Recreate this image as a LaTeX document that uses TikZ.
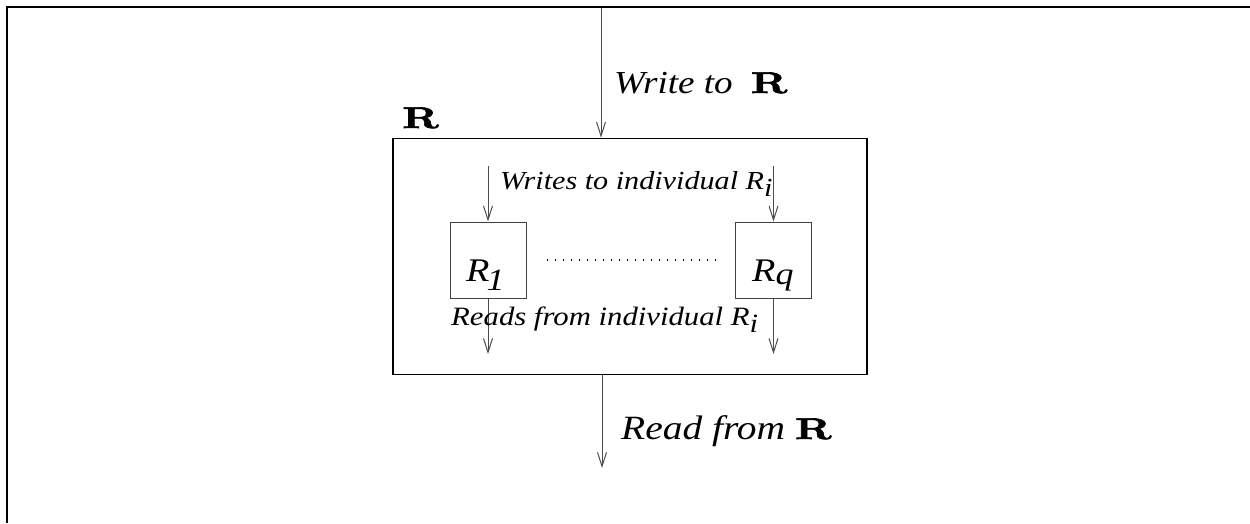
\documentclass[tikz,border=0pt]{standalone}
\usepackage{fontspec}
\newfontfamily\tms{Liberation Serif}[FakeStretch=1.16]
\newfontfamily\rbold{lmroman10-bold.otf}[FakeStretch=1.42,FakeBold=2]
\usetikzlibrary{arrows.meta}
\newcommand{\bigR}{{\rbold R}}
\begin{document}
\begin{tikzpicture}[x=1pt,y=-1pt,
  frameline/.style={line width=2.4pt},
  outerbox/.style={draw, line width=1.8pt, inner sep=0pt},
  regbox/.style={draw=black!75, line width=1pt, inner sep=0pt, minimum width=76pt, minimum height=76pt},
  flow/.style={draw=black!70, line width=1pt, -{Straight Barb[length=14pt,width=9pt,line width=1pt]}},
  lbl/.style={anchor=base west, inner sep=0pt, font=\tms\itshape}
]
\useasboundingbox (0,0) rectangle (1250,523);
% frame (only top and left edges visible)
\coordinate (fbl) at (7,523);
\coordinate (ftl) at (7,7);
\coordinate (ftr) at (1250,7);
\draw[frameline] (fbl) -- (ftl) -- (ftr);
% outer box R
\node[outerbox, minimum width=474pt, minimum height=236pt] (R) at (630,256.5) {};
\node[anchor=base west, inner sep=0pt, font={\fontsize{30}{32}\selectfont}] (Rlbl) at (402,128) {\bigR};
% register boxes
\node[regbox] (r1) at (488,260) {};
\node[regbox] (rq) at (773.5,260) {};
\node[anchor=base west, inner sep=0pt, font={\fontsize{33}{36}\selectfont\tms\itshape}] (r1t) at (466,281) {R\kern-3pt\raisebox{-9pt}{\fontsize{31}{31}\selectfont 1}};
\node[anchor=base west, inner sep=0pt, font={\fontsize{33}{36}\selectfont\tms\itshape}] (rqt) at (752,281) {R\raisebox{-3pt}{\fontsize{31}{31}\selectfont q}};
% dotted line
\coordinate (d1) at (547,260);
\coordinate (d2) at (717,260);
\draw[line width=1.2pt, dash pattern=on 1.2pt off 6.8pt] (d1) -- (d2);
% top arrow
\coordinate (wtop) at (601,8);
\draw[flow] (wtop) -- (R.north -| wtop);
\node[lbl, font={\fontsize{32}{34}\selectfont\tms\itshape}] (wlbl) at (614,93) {Write to\hspace{18pt}{\fontsize{30}{32}\selectfont\bigR}};
% bottom arrow
\coordinate (rbot) at (602,468);
\draw[flow] (R.south -| rbot) -- (rbot);
\node[lbl, font={\fontsize{34}{36}\selectfont\tms\itshape}] (rlbl) at (621,439) {Read from {\fontsize{30}{32}\selectfont\bigR}};
% inner write arrows
\coordinate (w1) at (488,166);
\coordinate (wq) at (773.5,166);
\draw[flow] (w1) -- (r1.north);
\draw[flow] (wq) -- (rq.north);
\node[lbl, font={\fontsize{26}{28}\selectfont\tms\itshape}] (wilbl) at (500,189) {Writes to individual R\raisebox{-7pt}{i}};
% inner read arrows
\coordinate (o1) at (488,354);
\coordinate (oq) at (773.5,354);
\draw[flow] (r1.south) -- (o1);
\draw[flow] (rq.south) -- (oq);
\node[lbl, font={\fontsize{26.5}{28}\selectfont\tms\itshape}] (rilbl) at (451,325) {Reads from individual R\raisebox{-7pt}{i}};
\end{tikzpicture}
\end{document}
